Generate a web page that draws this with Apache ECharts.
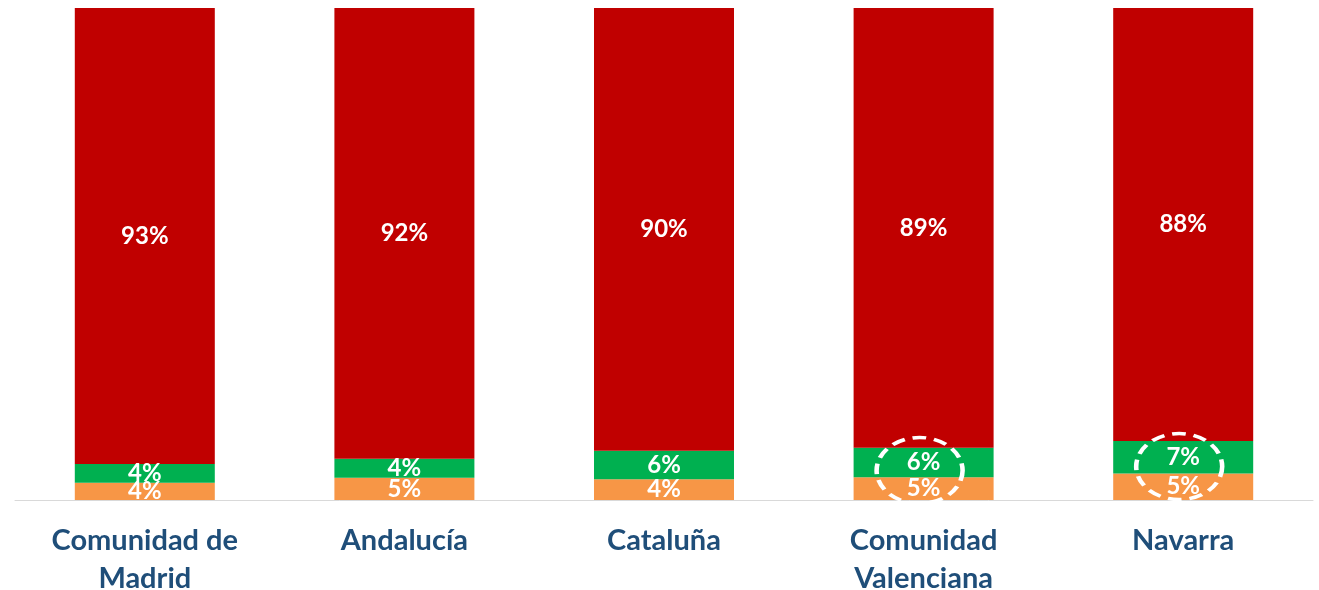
<!DOCTYPE html>
<html>
<head>
<meta charset="utf-8">
<script src="https://cdn.jsdelivr.net/npm/echarts@6/dist/echarts.min.js"></script>
<style>
  html, body { margin: 0; padding: 0; background: #fff; }
  #chart { width: 1319px; height: 590px; }
</style>
</head>
<body>
<div id="chart"></div>
<script>
// regions
const categories = ['Comunidad de\nMadrid', 'Andalucía', 'Cataluña', 'Comunidad\nValenciana', 'Navarra']
// shares in % (bottom to top)
const orangeShare = [3.5, 4.5, 4.2, 4.6, 5.4]
const greenShare = [3.8, 3.9, 5.8, 6.0, 6.6]
const redShare = [92.7, 91.6, 90.0, 89.4, 88.0]
// highlighted bars (dashed circle) : [category index, centre value]
const highlights = [[3, 6.0], [4, 6.8]]

const chart = echarts.init(document.getElementById('chart'))

const labelStyle = {
    show: true,
    position: 'inside',
    color: '#fff',
    fontFamily: 'Lato',
    fontWeight: 'bold',
    fontSize: 24,
    formatter: p => Math.round(p.value) + '%'
}

const makeSeries = (name, data, color) => ({
    name,
    type: 'bar',
    stack: 'total',
    barWidth: 140,
    data,
    itemStyle: { color },
    label: labelStyle
})

const red = makeSeries('red', redShare, '#C00000')
// dashed circles
red.markPoint = {
    symbol: 'circle',
    symbolSize: [86, 66],
    symbolOffset: [-4, 0],
    silent: true,
    itemStyle: {
        color: 'transparent',
        borderColor: '#fff',
        borderWidth: 4,
        borderType: [12, 7]
    },
    label: { show: false },
    data: highlights.map(([i, v]) => ({ coord: [i, v] }))
}

const option = {
    animation: false,
    grid: { left: 15, right: 6, top: 8, bottom: 90, outerBoundsMode: 'none' },
    xAxis: {
        type: 'category',
        data: categories,
        axisTick: { show: false },
        axisLine: { lineStyle: { color: '#D9D9D9', width: 1 } },
        axisLabel: {
            color: '#1F4E79',
            fontFamily: 'Lato',
            fontWeight: 'bold',
            fontSize: 29,
            lineHeight: 38,
            margin: 22,
            interval: 0
        }
    },
    yAxis: {
        type: 'value',
        min: 0,
        max: 100,
        show: false
    },
    series: [
        makeSeries('orange', orangeShare, '#F79646'),
        makeSeries('green', greenShare, '#00B050'),
        red
    ]
}
chart.setOption(option)
window.addEventListener('resize', () => {
    chart.resize()
})
</script>
</body>
</html>
